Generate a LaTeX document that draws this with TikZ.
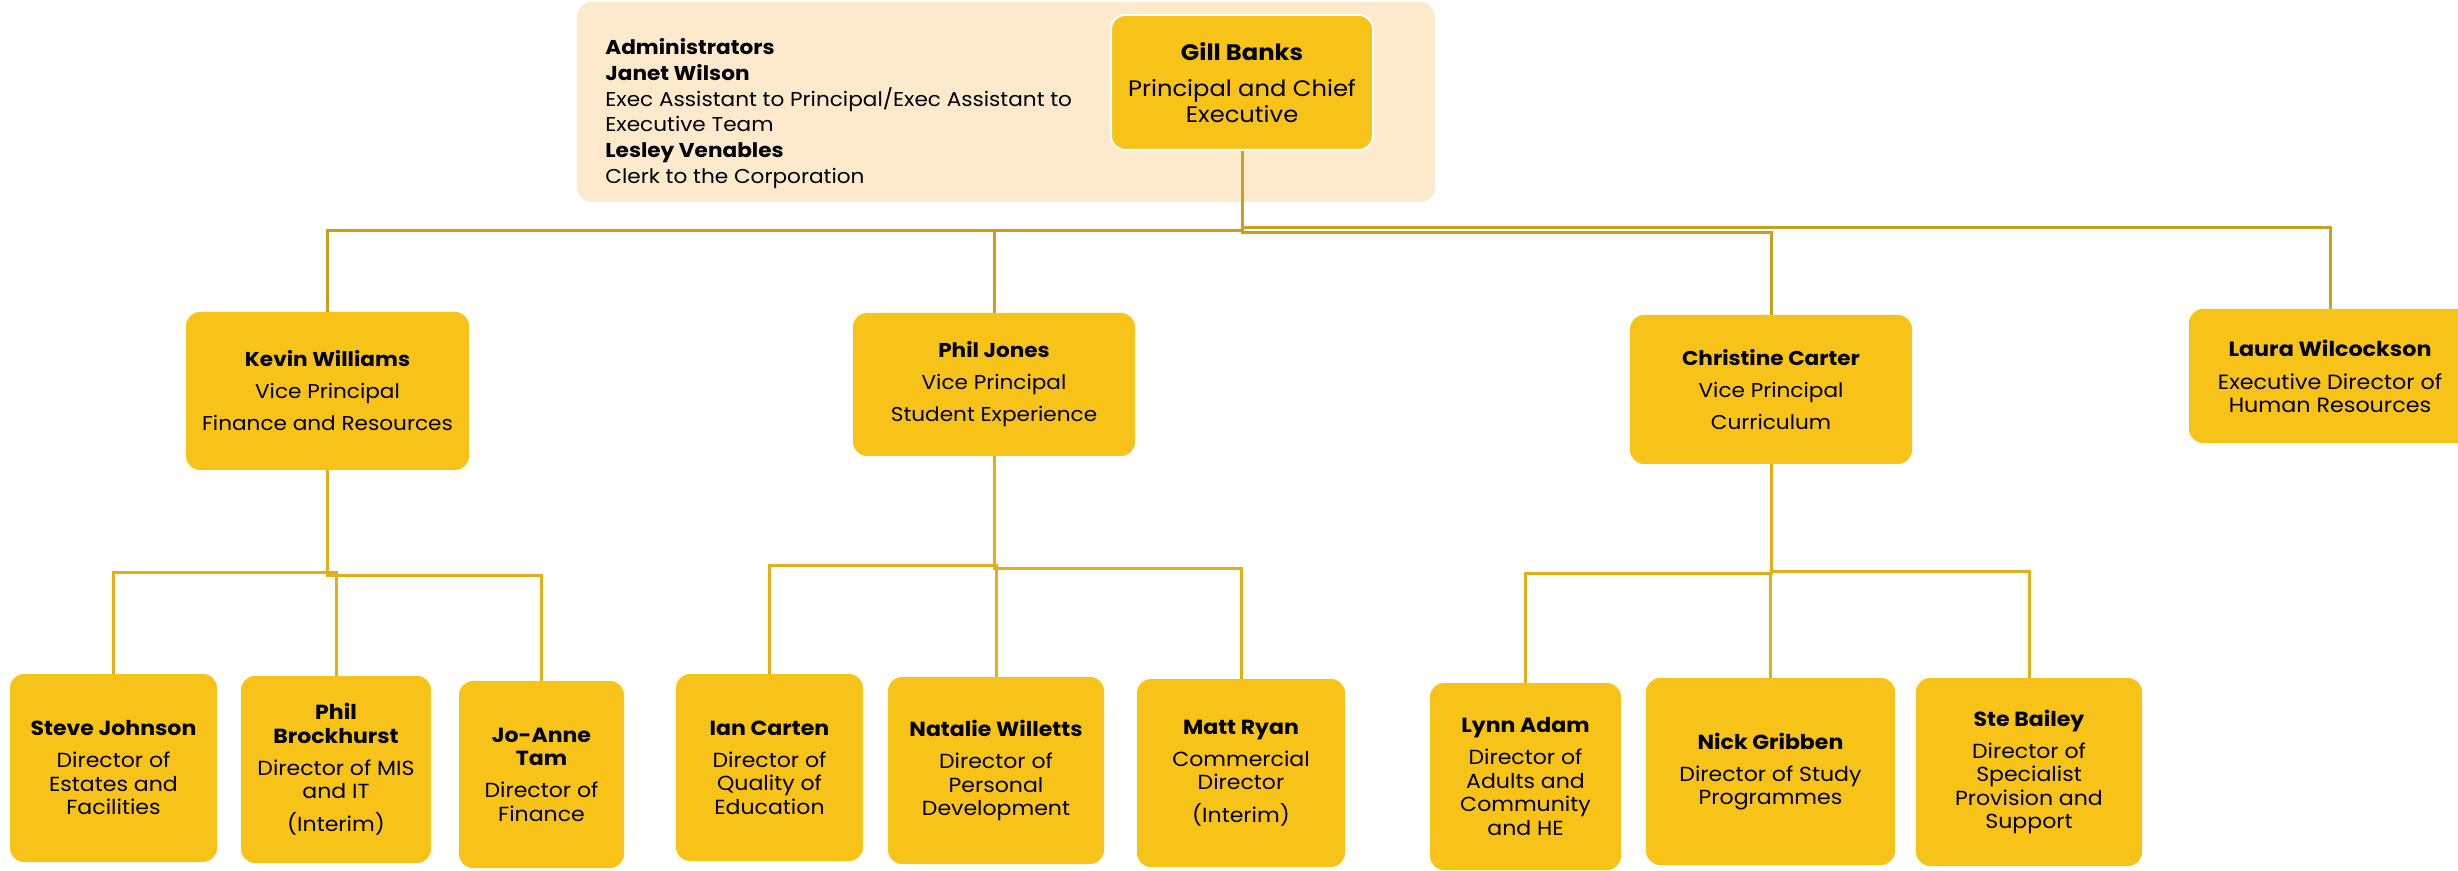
\documentclass[tikz,border=0pt]{standalone}
\usepackage{fontspec}
\setmainfont{Poppins}[FakeStretch=1.08]
\definecolor{boxfill}{HTML}{F8C318}
\definecolor{adminbg}{HTML}{FDE9CC}
\definecolor{topline}{HTML}{C9A01E}
\definecolor{botline}{HTML}{E3AE17}
\newcommand{\admfont}{\fontsize{10}{12.9}\selectfont}
\newcommand{\gillfont}{\fontsize{11.2}{13}\selectfont}
\newcommand{\vpfont}{\fontsize{10}{16}\selectfont}
\newcommand{\laurafont}{\fontsize{10.3}{11.5}\selectfont}
\newcommand{\dirfont}{\fontsize{10.2}{11.75}\selectfont}
\tikzset{
  orgbox/.style={fill=boxfill, rounded corners=7pt, inner sep=0pt, align=center, text=black},
  topconn/.style={draw=topline, line width=1.5pt},
  botconn/.style={draw=botline, line width=1.5pt}
}
\begin{document}
\begin{tikzpicture}[x=0.5pt, y=-0.5pt]
\useasboundingbox (0,0) rectangle (2458,871);
% admin background
\node[fill=adminbg, rounded corners=7.5pt, minimum width=429pt, minimum height=100pt, inner sep=0pt] (admin) at (1006,102) {};
\node[anchor=west, align=left, font=\admfont, inner sep=0pt] (admintext) at (605,113.5)
 {\textbf{Administrators}\\ \textbf{Janet Wilson}\\ Exec Assistant to Principal/Exec Assistant to\\ Executive Team\\ \textbf{Lesley Venables}\\ Clerk to the Corporation};
\node[orgbox, draw=white, line width=1pt, minimum width=131pt, minimum height=67.5pt, font=\gillfont] (gill) at (1242,82.5)
 {\textbf{Gill Banks}\\[5pt] Principal and Chief\\ Executive};
% level 1
\node[orgbox, minimum width=141.5pt, minimum height=79pt, font=\vpfont] (kevin) at (327.5,391)
 {\textbf{Kevin Williams}\\ Vice Principal\\ Finance and Resources};
\node[orgbox, minimum width=141pt, minimum height=71.5pt, font=\vpfont] (philj) at (994,384.5)
 {\textbf{Phil Jones}\\ Vice Principal\\ Student Experience};
\node[orgbox, minimum width=141pt, minimum height=74.5pt, font=\vpfont] (christine) at (1771,389.5)
 {\textbf{Christine Carter}\\ Vice Principal\\ Curriculum};
\node[orgbox, minimum width=141pt, minimum height=67pt, font=\laurafont] (laura) at (2330,376)
 {\textbf{Laura Wilcockson}\\[5pt] Executive Director of\\ Human Resources};
% level 2
\node[orgbox, minimum width=103.5pt, minimum height=94pt, font=\dirfont] (steve) at (113.5,768)
 {\textbf{Steve Johnson}\\[4.25pt] Director of\\ Estates and\\ Facilities};
\node[orgbox, minimum width=95pt, minimum height=93.5pt, font=\dirfont] (philb) at (336,769.5)
 {\textbf{Phil}\\ \textbf{Brockhurst}\\[4.25pt] Director of MIS\\ and IT\\[4.75pt] (Interim)};
\node[orgbox, minimum width=82.5pt, minimum height=93.5pt, font=\dirfont] (jo) at (541.5,774.5)
 {\textbf{Jo-Anne}\\ \textbf{Tam}\\[4.25pt] Director of\\ Finance};
\node[orgbox, minimum width=93.5pt, minimum height=93.5pt, font=\dirfont] (ian) at (769.5,767.5)
 {\textbf{Ian Carten}\\[4.25pt] Director of\\ Quality of\\ Education};
\node[orgbox, minimum width=108pt, minimum height=93.5pt, font=\dirfont] (natalie) at (996,770.5)
 {\textbf{Natalie Willetts}\\[4.25pt] Director of\\ Personal\\ Development};
\node[orgbox, minimum width=104pt, minimum height=94pt, font=\dirfont] (matt) at (1241,773)
 {\textbf{Matt Ryan}\\[4.25pt] Commercial\\ Director\\[4.75pt] (Interim)};
\node[orgbox, minimum width=95.5pt, minimum height=93.5pt, font=\dirfont] (lynn) at (1525.5,776.5)
 {\textbf{Lynn Adam}\\[4.25pt] Director of\\ Adults and\\ Community\\ and HE};
\node[orgbox, minimum width=124.5pt, minimum height=93.5pt, font=\dirfont] (nick) at (1770.5,771.5)
 {\textbf{Nick Gribben}\\[4.25pt] Director of Study\\ Programmes};
\node[orgbox, minimum width=113pt, minimum height=94pt, font=\dirfont] (ste) at (2029,772)
 {\textbf{Ste Bailey}\\[4.25pt] Director of\\ Specialist\\ Provision and\\ Support};
% top connectors
\draw[topconn] (gill.south) -- ++(0,80) -| (kevin.north);
\draw[topconn] (gill.south) -- ++(0,80) -| (philj.north);
\draw[topconn] (gill.south) -- ++(0,82) -| (christine.north);
\draw[topconn] (gill.south) -- ++(0,77) -| (laura.north);
% bottom connectors
\draw[botconn] (kevin.south) -- ++(0,102) -| (steve.north);
\draw[botconn] (kevin.south) -- ++(0,102) -| (philb.north);
\draw[botconn] (kevin.south) -- ++(0,105) -| (jo.north);
\draw[botconn] (philj.south) -- ++(0,109) -| (ian.north);
\draw[botconn] (philj.south) -- ++(0,109) -| (natalie.north);
\draw[botconn] (philj.south) -- ++(0,112) -| (matt.north);
\draw[botconn] (christine.south) -- ++(0,109) -| (lynn.north);
\draw[botconn] (christine.south) -- ++(0,109) -| (nick.north);
\draw[botconn] (christine.south) -- ++(0,107) -| (ste.north);
\end{tikzpicture}
\end{document}
